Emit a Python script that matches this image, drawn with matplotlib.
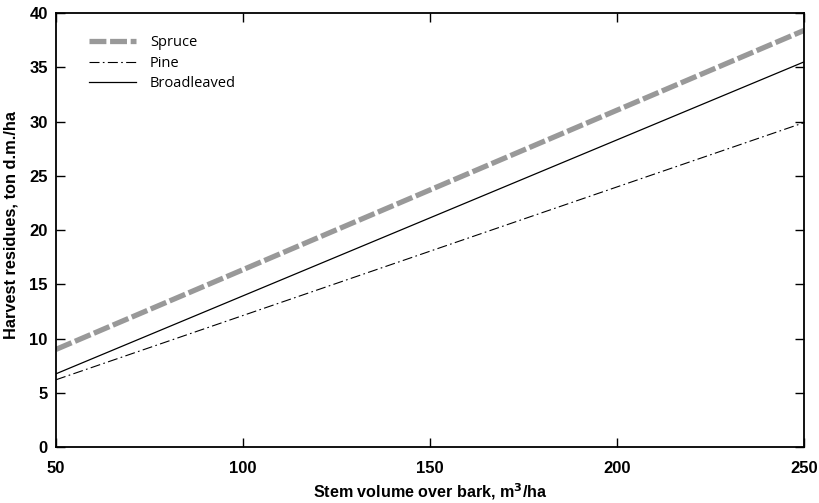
import matplotlib
matplotlib.use("Agg")
import matplotlib.pyplot as plt

volume = [50, 250]
spruce = [9.0, 38.4]
pine = [6.2, 29.9]
broadleaved = [6.75, 35.5]

fig = plt.figure(figsize=(8.19, 5.03), dpi=100)
ax = fig.add_axes([0.0684, 0.1113, 0.9133, 0.8627])

ax.plot(volume, spruce, color="#999999", lw=3.8, dashes=(3.2, 0.7), label="Spruce",
        solid_capstyle="butt", dash_capstyle="butt")
ax.plot(volume, pine, color="black", lw=0.8, dashes=(9, 3, 1.5, 3), label="Pine")
ax.plot(volume, broadleaved, color="black", lw=0.9, label="Broadleaved")

ax.set_xlim(50, 250)
ax.set_ylim(0, 40)
ax.set_xticks([50, 100, 150, 200, 250])
ax.set_yticks(range(0, 41, 5))
ax.tick_params(direction="in", length=6.5, width=1.0, top=True, right=True)
ax.tick_params(axis="x", pad=10)
ax.tick_params(axis="y", pad=6)
for lab in ax.get_xticklabels() + ax.get_yticklabels():
    lab.set_fontfamily("Liberation Sans")
    lab.set_fontweight("bold")
    lab.set_fontsize(12)
for s in ax.spines.values():
    s.set_linewidth(1.3)

ax.set_xlabel("Stem volume over bark, m$^\\mathbf{3}$/ha", fontfamily="Liberation Sans",
              fontweight="bold", fontsize=11.6)
ax.xaxis.set_label_coords(0.5, -0.08)
ax.set_ylabel("Harvest residues, ton d.m./ha", fontfamily="Liberation Sans",
              fontweight="bold", fontsize=11.8)
ax.yaxis.set_label_coords(-0.05, 0.512)

leg = ax.legend(loc="upper left", bbox_to_anchor=(0.035, 0.966), frameon=False,
                prop={"family": "Open Sans", "size": 10.5}, handlelength=3.2,
                handletextpad=0.95, labelspacing=0.38, borderpad=0)

fig.savefig("out.png", dpi=100)
